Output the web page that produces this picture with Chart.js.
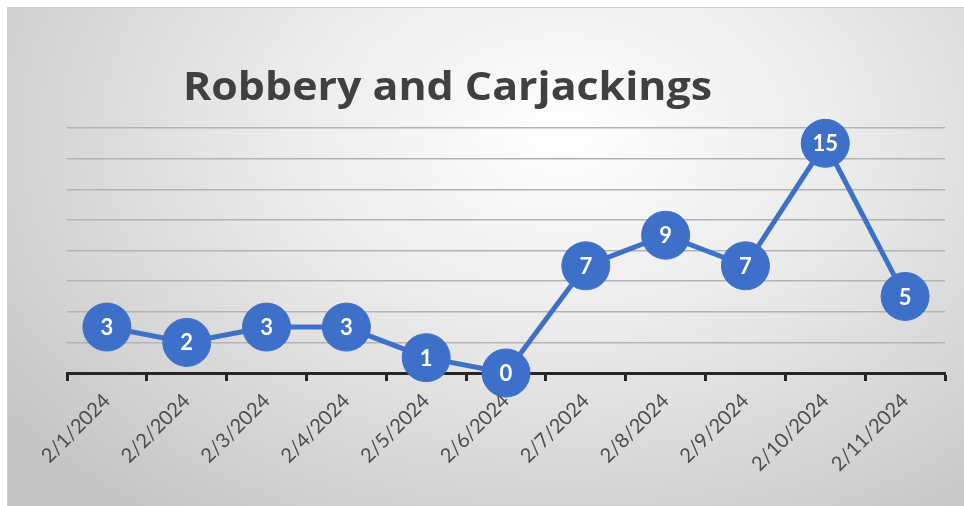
<!DOCTYPE html>
<html>
<head>
<meta charset="utf-8">
<script src="https://cdn.jsdelivr.net/npm/chart.js@4.4.1/dist/chart.umd.min.js"></script>
<style>
  html, body { margin: 0; padding: 0; background: #ffffff; }
  #panel {
    position: absolute;
    left: 7px; top: 7px;
    width: 956px; height: 498px;
    border-top: 1px solid #cfcfcf;
    border-left: 1px solid #cfcfcf;
    background: radial-gradient(ellipse 72% 95% at 58% 25%, #ffffff 0%, #ececec 40%, #c6c6c6 100%);
  }
  #chart { display: block; }
</style>
</head>
<body>
<div id="panel"><canvas id="chart" width="956" height="498"></canvas></div>
<script>
// Chart data
const chartTitle = 'Robbery and Carjackings';
const dates = ['2/1/2024', '2/2/2024', '2/3/2024', '2/4/2024', '2/5/2024', '2/6/2024',
               '2/7/2024', '2/8/2024', '2/9/2024', '2/10/2024', '2/11/2024'];
const incidents = [3, 2, 3, 3, 1, 0, 7, 9, 7, 15, 5];
const yMin = 0;
const yMax = 16;
const yStep = 2;

const lineBlue = '#3F70C9';

/**
 * Title drawn by hand so it can sit left of centre like the original
 * (the original is a bit wider than any installed font, so stretch it)
 */
const titlePlugin = {
    id: 'leftTitle',
    afterDraw(chart) {
        const ctx = chart.ctx;
        ctx.save();
        ctx.font = 'bold 39px "Open Sans"';
        ctx.fillStyle = '#404040';
        ctx.textAlign = 'left';
        ctx.textBaseline = 'alphabetic';
        const stretch = 529 / ctx.measureText(chartTitle).width;
        ctx.translate(175, 92);
        ctx.scale(stretch, 1);
        ctx.fillText(chartTitle, 0, 0);
        ctx.restore();
    }
};

/**
 * White value labels in the middle of each point
 */
const valueLabels = {
    id: 'valueLabels',
    afterDatasetsDraw(chart) {
        const ctx = chart.ctx;
        const meta = chart.getDatasetMeta(0);
        ctx.save();
        ctx.font = 'bold 22px Lato';
        ctx.fillStyle = '#ffffff';
        ctx.textAlign = 'center';
        ctx.textBaseline = 'middle';
        meta.data.forEach((pt, i) => {
            ctx.fillText(String(incidents[i]), pt.x, pt.y + 1);
        });
        ctx.restore();
    }
};

new Chart(document.getElementById('chart'), {
    type: 'line',
    data: {
        labels: dates,
        datasets: [{
            data: incidents,
            borderColor: lineBlue,
            backgroundColor: lineBlue,
            borderWidth: 5,
            pointRadius: 24,
            pointBackgroundColor: lineBlue,
            pointBorderColor: lineBlue,
            pointBorderWidth: 1,
            tension: 0,
            clip: false
        }]
    },
    options: {
        responsive: false,
        animation: false,
        layout: {
            // big points would otherwise push the plot in on every side
            autoPadding: false,
            padding: { left: 59, right: 19, top: 120, bottom: 0 }
        },
        plugins: {
            legend: { display: false },
            tooltip: { enabled: false }
        },
        scales: {
            x: {
                type: 'category',
                offset: true,
                grid: {
                    offset: true,
                    drawOnChartArea: false,
                    drawTicks: true,
                    tickLength: 8,
                    tickWidth: 3,
                    tickColor: '#262626'
                },
                border: { display: true, color: '#262626', width: 3 },
                ticks: {
                    autoSkip: false,
                    minRotation: 45,
                    maxRotation: 45,
                    color: '#4d4d4d',
                    font: { family: 'Lato', size: 20 },
                    padding: 8
                },
                afterFit(scale) {
                    scale.height = 133;
                    scale.paddingLeft = 0;
                    scale.paddingRight = 0;
                }
            },
            y: {
                min: yMin,
                max: yMax,
                ticks: { stepSize: yStep, display: false },
                grid: {
                    color: '#b3b3b3',
                    lineWidth: 1.5,
                    drawTicks: false
                },
                border: { display: false },
                afterFit(scale) { scale.width = 0; }
            }
        }
    },
    plugins: [titlePlugin, valueLabels]
});
</script>
</body>
</html>
